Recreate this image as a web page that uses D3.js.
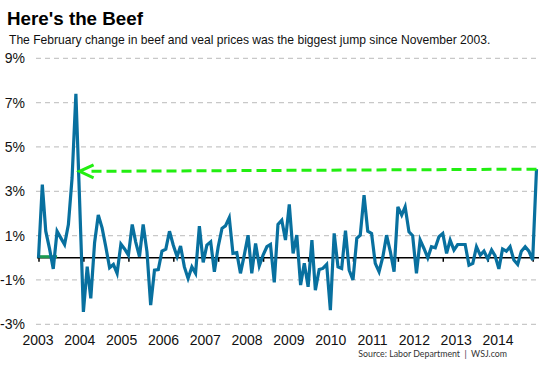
<!DOCTYPE html>
<html lang="en">
<head>
<meta charset="UTF-8">
<title>Here's the Beef</title>
<style>
  body { margin: 0; background: #fff; }
  svg { display: block; }
</style>
</head>
<body>
<script src="https://cdn.jsdelivr.net/npm/d3@7"></script>
<script>
  // monthly change in beef and veal prices, %, Jan 2003 .. Feb 2014
  const startDate = new Date(2003, 0, 1);
  const changes = [
    0.0, 3.3, 1.2, 0.4, -0.5, 1.2, 0.9, 0.6, 1.5, 3.6, 7.4, 2.6,        // 2003
    -2.44, -0.4, -1.83, 0.68, 1.93, 1.35, 0.5, -0.45, -0.3, -0.7, 0.62, 0.4, // 2004
    0.12, 1.5, 0.72, 0.05, 1.5, 0.27, -2.13, -0.56, -0.53, 0.3, 0.39, 1.2,   // 2005
    0.57, 0.05, 0.53, -0.41, -0.93, -0.41, -0.7, 1.43, -0.21, 0.57, 0.72, -0.63, // 2006
    0.5, 1.33, 1.44, 1.81, 0.2, 0.23, -0.7, 0.12, 1.02, -0.7, 0.65, -0.36,   // 2007
    0.12, 0.5, 0.6, -1.11, 1.51, 1.7, 0.8, 2.41, 0.2, 1.02, -1.23, -0.25,    // 2008
    -1.31, 0.8, -1.46, -0.53, -0.48, -0.3, -2.36, 1.1, -0.41, -0.48, 1.22, -0.56, // 2009
    -1.0, 0.88, 1.02, 2.83, 1.2, 1.1, -0.25, -0.63, 0.05, 1.02, 0.27, -0.63, // 2010
    2.3, 1.93, 2.3, 1.17, 1.0, -0.7, 0.8, 0.42, 0.0, 0.5, 0.45, 0.95,        // 2011
    1.1, 0.2, 0.8, 0.35, 0.6, 0.6, 0.6, -0.33, -0.25, 0.5, 0.12, 0.3,        // 2012
    -0.05, 0.35, 0.1, -0.5, 0.4, 0.3, 0.5, -0.1, -0.3, 0.3, 0.5, 0.3,        // 2013
    -0.1, 4.0                                                                // 2014
  ];
  const yTicks = [-3, -1, 1, 3, 5, 7, 9];
  const yearLabels = ['2003', '2004', '2005', '2006', '2007', '2008', '2009', '2010', '2011', '2012', '2013', '2014'];
  // arrow: from the Feb 2014 jump back to late 2003
  const arrowFrom = { date: new Date(2014, 1, 1), value: 4.0 };
  const arrowTo = { date: new Date(2003, 11, 1), value: 3.9 };
  const greenStub = [{ date: new Date(2003, 0, 1), value: 0.05 }, { date: new Date(2003, 5, 1), value: 0.05 }];

  const w = 557;
  const h = 373;
  const left = 38.5, right = 536.5;

  const data = changes.map((v, i) => ({ date: d3.timeMonth.offset(startDate, i), value: v }));

  const svg = d3.select('body').append('svg')
    .attr('width', w)
    .attr('height', h);

  svg.append('rect').attr('width', w).attr('height', h).attr('fill', '#fff');

  const xScale = d3.scaleTime()
    .domain([startDate, data[data.length - 1].date])
    .range([left, right]);

  const yScale = d3.scaleLinear()
    .domain([-3, 9])
    .range([324.3, 58.3]);

  const labelScale = d3.scalePoint()
    .domain(yearLabels)
    .range([38, 498]);

  // title
  svg.append('text')
    .attr('x', 7).attr('y', 25)
    .attr('font-family', 'Liberation Sans, Arial, sans-serif')
    .attr('font-weight', 'bold')
    .attr('font-size', '18.8px')
    .attr('fill', '#000')
    .text("Here's the Beef");

  svg.append('text')
    .attr('x', 9).attr('y', 43.5)
    .attr('font-family', 'Liberation Sans, Arial, sans-serif')
    .attr('font-size', '12.1px')
    .attr('fill', '#111')
    .text('The February change in beef and veal prices was the biggest jump since November 2003.');

  // gridlines
  svg.selectAll('.grid')
    .data(yTicks)
    .enter()
    .append('line')
    .attr('class', 'grid')
    .attr('x1', 36).attr('x2', 539)
    .attr('y1', d => yScale(d)).attr('y2', d => yScale(d))
    .attr('stroke', '#c8c8c8')
    .attr('stroke-width', 1.3)
    .attr('stroke-dasharray', '5,4');

  svg.selectAll('.ylab')
    .data(yTicks)
    .enter()
    .append('text')
    .attr('class', 'ylab')
    .attr('x', 25)
    .attr('y', d => yScale(d))
    .attr('dy', '0.36em')
    .attr('text-anchor', 'end')
    .attr('font-family', 'Liberation Sans Narrow, Arial Narrow, Liberation Sans, sans-serif')
    .attr('font-size', '14px')
    .attr('fill', '#111')
    .text(d => d + '%');

  // zero line with year ticks
  const xAxis = d3.axisBottom(xScale)
    .ticks(d3.timeYear.every(1))
    .tickSize(4)
    .tickFormat('');
  const axisG = svg.append('g')
    .attr('transform', `translate(0,${yScale(0)})`)
    .call(xAxis);
  axisG.select('.domain').remove();
  axisG.selectAll('.tick line').attr('stroke', '#000').attr('stroke-width', 1.5);
  svg.append('line')
    .attr('x1', 37).attr('x2', 539)
    .attr('y1', yScale(0)).attr('y2', yScale(0))
    .attr('stroke', '#000')
    .attr('stroke-width', 1.6);

  svg.selectAll('.xlab')
    .data(yearLabels)
    .enter()
    .append('text')
    .attr('class', 'xlab')
    .attr('x', d => labelScale(d))
    .attr('y', 345)
    .attr('text-anchor', 'middle')
    .attr('font-family', 'Liberation Sans Narrow, Arial Narrow, Liberation Sans, sans-serif')
    .attr('font-size', '14px')
    .attr('fill', '#111')
    .text(d => d);

  const line = d3.line()
    .x(d => xScale(d.date))
    .y(d => yScale(d.value));

  svg.append('path')
    .datum(greenStub)
    .attr('d', line)
    .attr('fill', 'none')
    .attr('stroke', '#1c9a50')
    .attr('stroke-width', 3);

  svg.append('path')
    .datum(data)
    .attr('d', line)
    .attr('fill', 'none')
    .attr('stroke', '#08709f')
    .attr('stroke-width', 3.2)
    .attr('stroke-linejoin', 'miter');

  // green dashed arrow
  const ax1 = xScale(arrowFrom.date), ay1 = yScale(arrowFrom.value);
  const ax2 = xScale(arrowTo.date), ay2 = yScale(arrowTo.value);
  svg.append('line')
    .attr('x1', ax1).attr('y1', ay1)
    .attr('x2', ax2 + 7).attr('y2', ay2)
    .attr('stroke', '#22ee11')
    .attr('stroke-width', 3)
    .attr('stroke-dasharray', '10,5');
  svg.append('path')
    .attr('d', `M${ax2 + 14},${ay2 - 6.5} L${ax2},${ay2} L${ax2 + 14},${ay2 + 6.5}`)
    .attr('fill', 'none')
    .attr('stroke', '#22ee11')
    .attr('stroke-width', 3);

  svg.append('text')
    .attr('x', 507).attr('y', 357)
    .attr('text-anchor', 'end')
    .attr('font-family', 'Lato, Open Sans, sans-serif')
    .attr('font-size', '8.8px')
    .attr('fill', '#333')
    .attr('xml:space', 'preserve')
    .text('Source: Labor Department  |  WSJ.com');
</script>
</body>
</html>
